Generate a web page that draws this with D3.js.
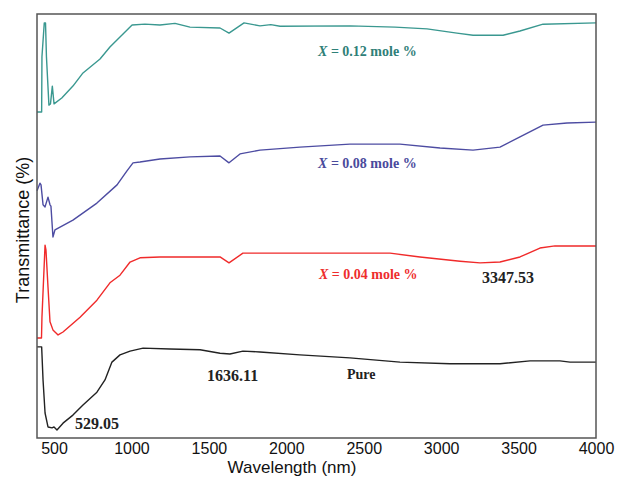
<!DOCTYPE html>
<html>
<head>
<meta charset="utf-8">
<script src="https://cdn.jsdelivr.net/npm/d3@7"></script>
<style>
	body { margin: 0; background: #fff; }
	#chart { width: 618px; height: 477px; }
</style>
</head>
<body>
<div id="chart"></div>
<script>
// wavelength (nm) / transmittance (offset, arbitrary %)
const tealW = [390, 420, 422, 437, 445, 451, 467, 477, 489, 500, 550, 622, 687, 797, 861, 926, 1004, 1087, 1184, 1281, 1378, 1572, 1630, 1727, 1830, 1900, 1960, 2411, 2702, 2909, 3102, 3206, 3400, 3509, 3658, 4000];
const tealT = [76.9, 76.9, 89.9, 97.9, 97.9, 89.9, 78.5, 78.8, 83.0, 78.8, 80.2, 83.0, 86.1, 89.4, 92.2, 94.6, 97.4, 97.6, 97.4, 97.8, 96.9, 96.7, 95.5, 97.9, 97.2, 97.5, 97.1, 97.2, 96.9, 96.5, 95.5, 95.0, 95.0, 96.0, 97.6, 97.9];

const blueW = [390, 409, 416, 429, 442, 461, 474, 480, 493, 506, 622, 777, 907, 971, 1010, 1055, 1184, 1378, 1572, 1630, 1701, 1830, 2088, 2411, 2734, 2993, 3206, 3380, 3509, 3658, 3813, 4000];
const blueT = [58.3, 60.1, 59.7, 55.0, 54.5, 56.8, 55.0, 54.7, 47.4, 49.1, 51.4, 55.4, 59.7, 63.0, 64.9, 65.1, 65.8, 66.3, 66.5, 64.9, 67.0, 67.9, 68.6, 69.3, 69.3, 68.4, 67.9, 68.6, 71.0, 73.8, 74.3, 74.5];

const redW = [390, 419, 422, 442, 448, 461, 474, 493, 526, 558, 668, 777, 861, 926, 991, 1055, 1184, 1572, 1630, 1720, 2088, 2670, 2863, 3122, 3251, 3380, 3509, 3638, 3735, 4000];
const redT = [23.6, 23.6, 28.5, 45.5, 44.3, 35.6, 27.4, 25.5, 24.3, 25.0, 28.5, 32.5, 36.6, 38.4, 41.5, 42.5, 42.7, 42.7, 41.3, 43.6, 43.6, 43.6, 42.7, 41.7, 41.3, 41.5, 42.7, 44.8, 45.3, 45.3];

const blackW = [390, 420, 429, 442, 461, 487, 500, 519, 558, 622, 687, 777, 829, 874, 926, 991, 1075, 1249, 1443, 1572, 1636, 1720, 1830, 2088, 2411, 2734, 3057, 3380, 3574, 3767, 3832, 4000];
const blackT = [21.5, 21.5, 13.7, 5.9, 2.6, 2.4, 2.6, 1.9, 3.5, 5.4, 7.8, 10.8, 13.7, 17.9, 19.6, 20.5, 21.2, 21.0, 20.8, 20.0, 19.8, 20.5, 20.3, 19.6, 18.9, 17.9, 17.5, 17.5, 18.2, 18.2, 17.9, 17.9];

const xTicks = [500, 1000, 1500, 2000, 2500, 3000, 3500, 4000];

// annotation text and the spectrum point it is pinned to
const seriesLabels = ['0.12', '0.08', '0.04'];
const peakLabels = ['3347.53', '1636.11', 'Pure', '529.05'];

const margins = { left: 37, right: 22, top: 14, bottom: 39 };
const width = 618, height = 477;

const svg = d3.select('#chart').append('svg')
	.attr('width', width)
	.attr('height', height);

const x = d3.scaleLinear()
	.domain([390, 4000])
	.range([margins.left, width - margins.right]);

const y = d3.scaleLinear()
	.domain([0, 100])
	.range([height - margins.bottom, margins.top]);

const line = d3.line()
	.x(d => x(d[0]))
	.y(d => y(d[1]));

const series = [
	{ w: tealW, t: tealT, color: '#3a9890' },
	{ w: blueW, t: blueT, color: '#4d4ca2' },
	{ w: redW, t: redT, color: '#f02a2a' },
	{ w: blackW, t: blackT, color: '#222' }
];

svg.append('g').selectAll('path')
	.data(series)
	.enter()
	.append('path')
	.attr('d', s => line(d3.zip(s.w, s.t)))
	.attr('fill', 'none')
	.attr('stroke', s => s.color)
	.attr('stroke-width', 1.4)
	.attr('stroke-linejoin', 'round');

// frame
svg.append('rect')
	.attr('x', x.range()[0])
	.attr('y', y.range()[1])
	.attr('width', x.range()[1] - x.range()[0])
	.attr('height', y.range()[0] - y.range()[1])
	.attr('fill', 'none')
	.attr('stroke', '#555')
	.attr('stroke-width', 1.5);

const xAxis = svg.append('g')
	.attr('transform', 'translate(0,' + y.range()[0] + ')')
	.call(d3.axisBottom(x).tickValues(xTicks).tickSize(0).tickPadding(5).tickFormat(d3.format('d')));
xAxis.select('.domain').remove();
xAxis.selectAll('text')
	.attr('font-family', 'Liberation Sans, Arial, sans-serif')
	.attr('font-size', 16)
	.attr('fill', '#111');

svg.append('text')
	.attr('x', 292)
	.attr('y', 473)
	.attr('text-anchor', 'middle')
	.attr('font-family', 'Liberation Sans, Arial, sans-serif')
	.attr('font-size', 17)
	.attr('fill', '#111')
	.text('Wavelength (nm)');

svg.append('text')
	.attr('transform', 'translate(29,230) rotate(-90)')
	.attr('text-anchor', 'middle')
	.attr('font-family', 'Liberation Sans, Arial, sans-serif')
	.attr('font-size', 18)
	.attr('fill', '#111')
	.text('Transmittance (%)');

const serif = 'Liberation Serif, Times New Roman, serif';
const seriesAnchors = [[2205, 90.1], [2205, 63.7], [2211, 37.5]];
const seriesTextColors = ['#2f8078', '#4a4a9c', '#ee2d2d'];

seriesLabels.forEach((v, i) => {
	const t = svg.append('text')
		.attr('x', x(seriesAnchors[i][0]))
		.attr('y', y(seriesAnchors[i][1]))
		.attr('font-family', serif)
		.attr('font-size', 14)
		.attr('font-weight', 'bold')
		.attr('fill', seriesTextColors[i]);
	t.append('tspan').attr('font-style', 'italic').text('X');
	t.append('tspan').text(' = ' + v + ' mole %');
});

const peakAnchors = [[3264, 36.6], [1488, 13.4], [2392, 13.9], [635, 2.1]];
const peakSizes = [16, 16, 14, 16];
peakLabels.forEach((v, i) => {
	svg.append('text')
		.attr('x', x(peakAnchors[i][0]))
		.attr('y', y(peakAnchors[i][1]))
		.attr('font-family', serif)
		.attr('font-size', peakSizes[i])
		.attr('font-weight', 'bold')
		.attr('fill', '#222')
		.text(v);
});
</script>
</body>
</html>
